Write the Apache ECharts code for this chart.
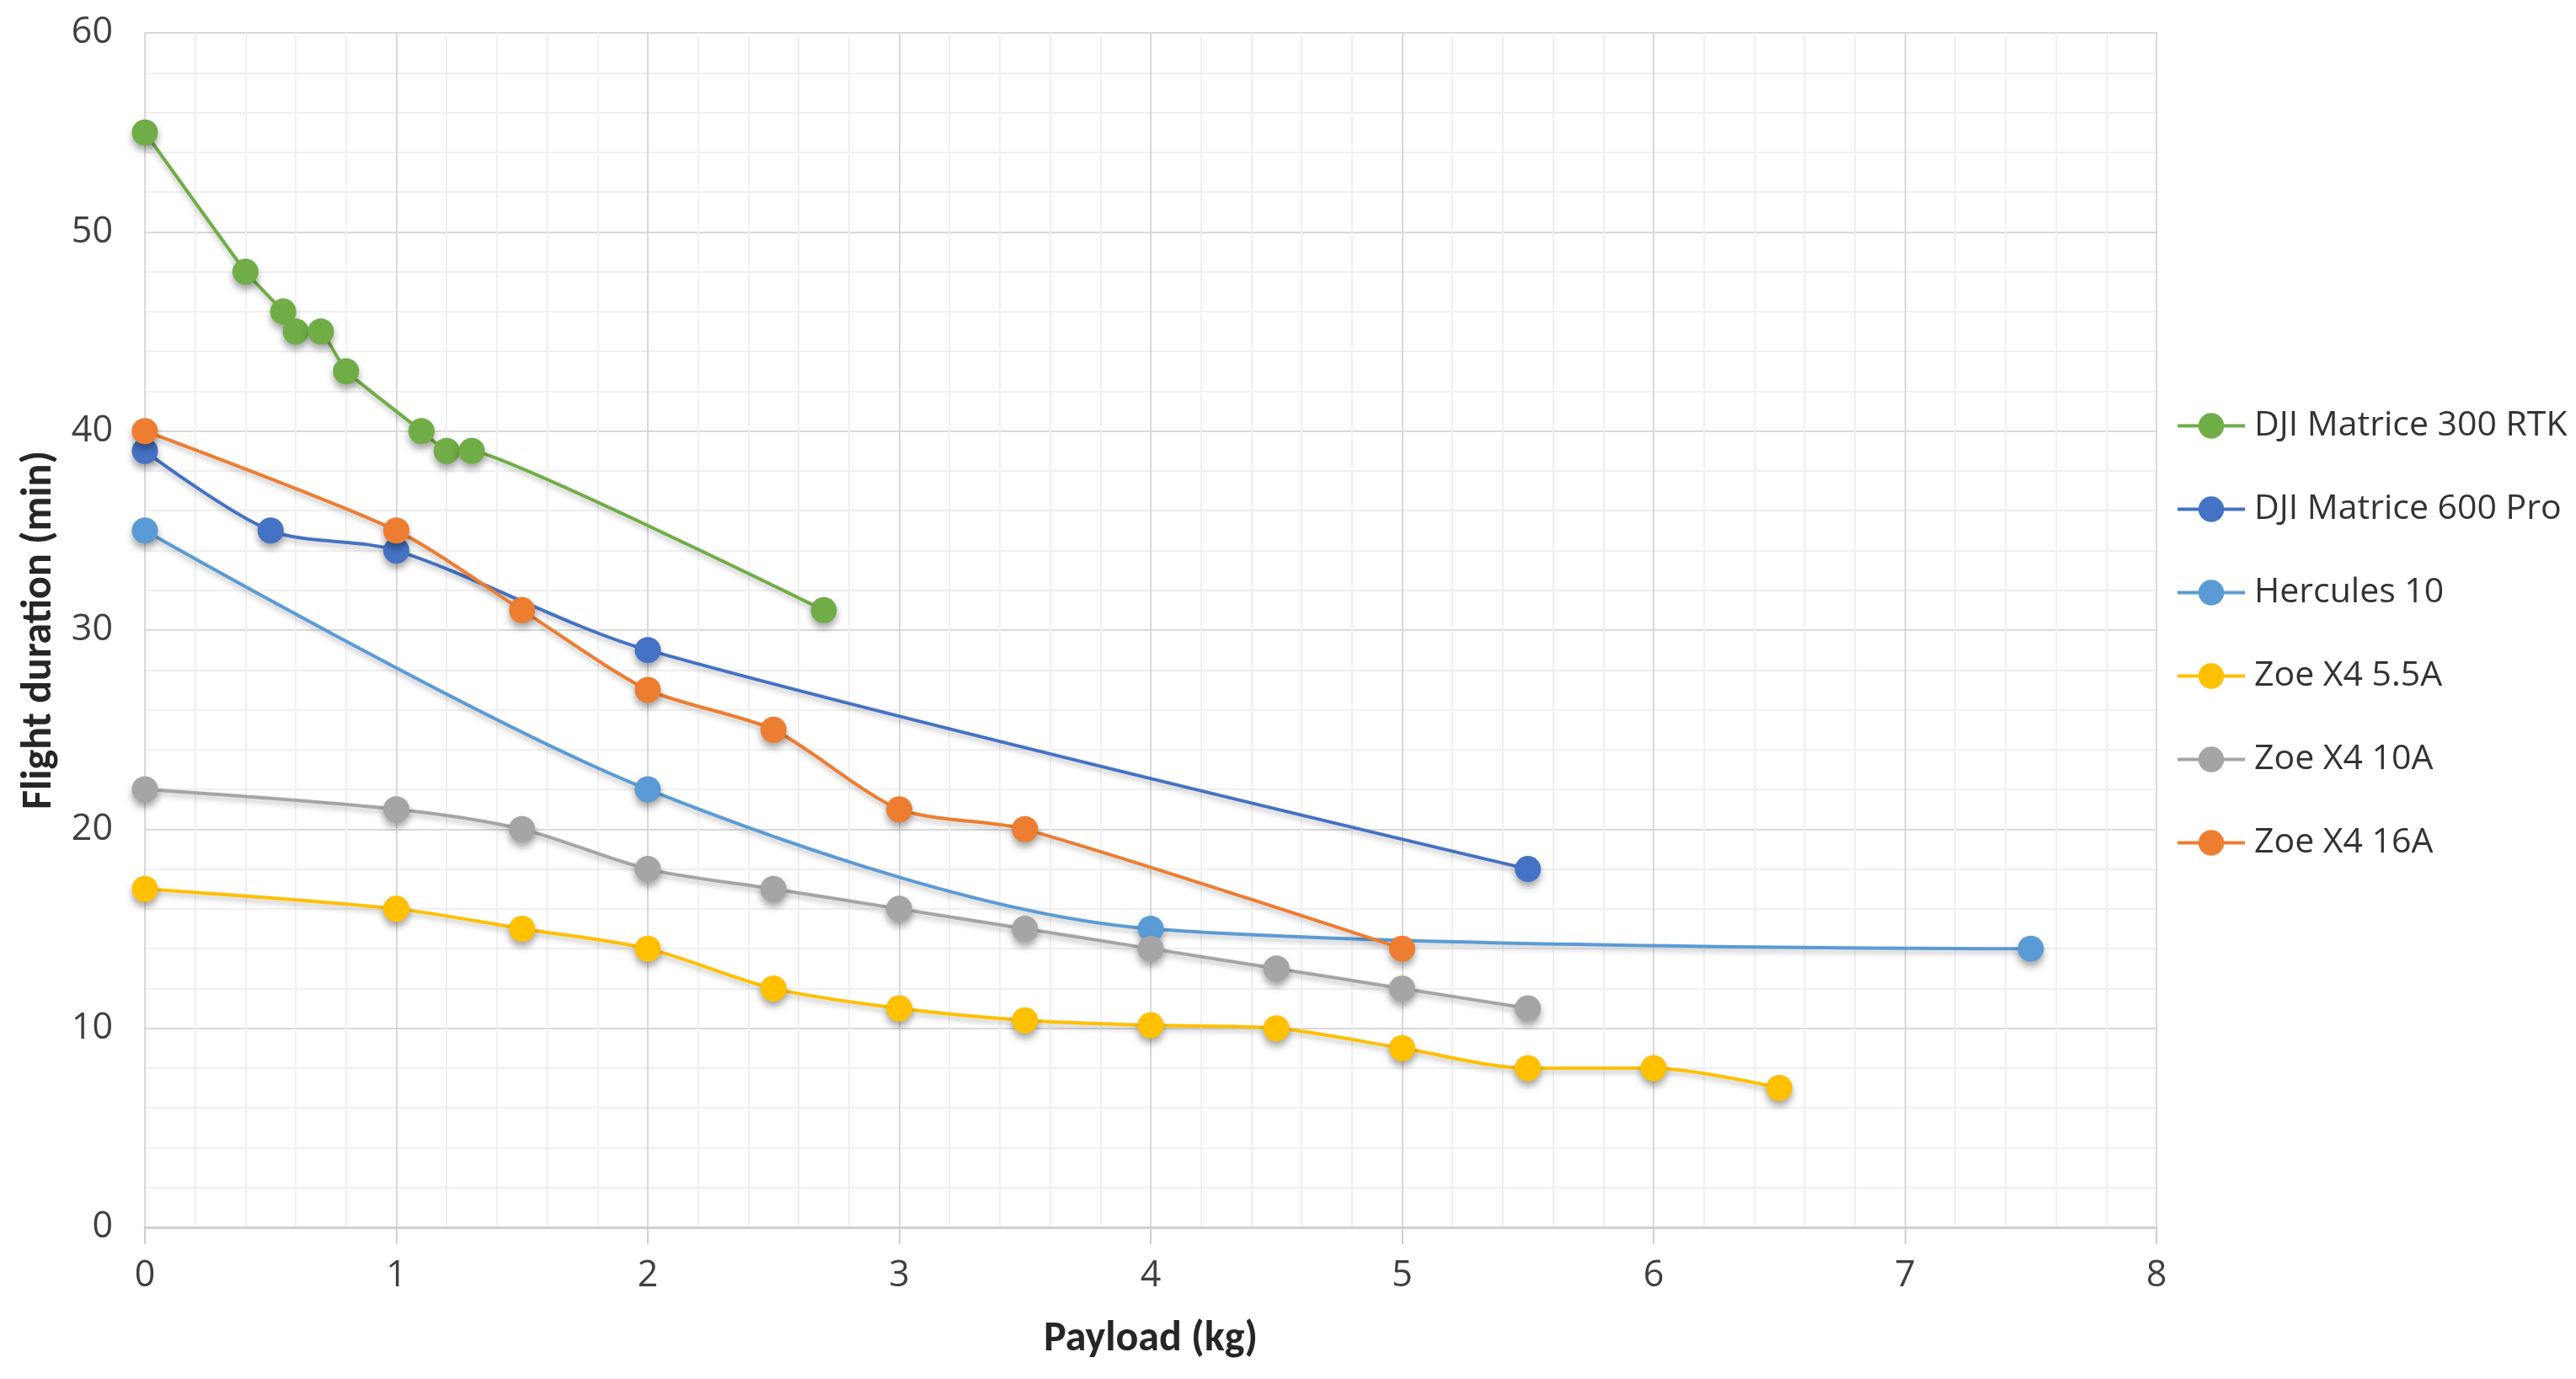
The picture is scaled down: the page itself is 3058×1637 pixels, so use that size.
<!DOCTYPE html>
<html>
<head>
<meta charset="utf-8">
<script src="https://cdn.jsdelivr.net/npm/echarts@6/dist/echarts.min.js"></script>
<style>
html,body{margin:0;padding:0;background:#fff;}
#chart{width:3058px;height:1637px;}
</style>
</head>
<body>
<div id="chart"></div>
<script>
// Data (payload kg, flight duration min)
const seriesNames = ['DJI Matrice 300 RTK', 'DJI Matrice 600 Pro', 'Hercules 10', 'Zoe X4 5.5A', 'Zoe X4 10A', 'Zoe X4 16A'];
const m300Payload = [0, 0.4, 0.55, 0.6, 0.7, 0.8, 1.1, 1.2, 1.3, 2.7];
const m300Duration = [55, 48, 46, 45, 45, 43, 40, 39, 39, 31];
const m600Payload = [0, 0.5, 1, 2, 5.5];
const m600Duration = [39, 35, 34, 29, 18];
const herculesPayload = [0, 2, 4, 7.5];
const herculesDuration = [35, 22, 15, 14];
const zoe55Payload = [0, 1, 1.5, 2, 2.5, 3, 3.5, 4, 4.5, 5, 5.5, 6, 6.5];
const zoe55Duration = [17, 16, 15, 14, 12, 11, 10.4, 10.15, 10, 9, 8, 8, 7];
const zoe10Payload = [0, 1, 1.5, 2, 2.5, 3, 3.5, 4, 4.5, 5, 5.5];
const zoe10Duration = [22, 21, 20, 18, 17, 16, 15, 14, 13, 12, 11];
const zoe16Payload = [0, 1, 1.5, 2, 2.5, 3, 3.5, 5];
const zoe16Duration = [40, 35, 31, 27, 25, 21, 20, 14];
const xTicks = [0, 1, 2, 3, 4, 5, 6, 7, 8];
const yTicks = [0, 10, 20, 30, 40, 50, 60];

const colors = ['#70AD47', '#4472C4', '#5B9BD5', '#FFC000', '#A5A5A5', '#ED7D31'];
const smoothness = [0.08, 0.3, 0.3, 0.3, 0.3, 0.25];
const pairs = [
  [m300Payload, m300Duration],
  [m600Payload, m600Duration],
  [herculesPayload, herculesDuration],
  [zoe55Payload, zoe55Duration],
  [zoe10Payload, zoe10Duration],
  [zoe16Payload, zoe16Duration]
];
const titleFont = '"Liberation Sans Narrow", Carlito, Lato, sans-serif';
const labelFont = '"Open Sans", Lato, sans-serif';

const chart = echarts.init(document.getElementById('chart'), null, {renderer: 'canvas'});

const series = seriesNames.map((name, i) => ({
  name: name,
  type: 'line',
  data: pairs[i][0].map((x, k) => [x, pairs[i][1][k]]),
  smooth: smoothness[i],
  symbol: 'circle',
  symbolSize: 31,
  showSymbol: true,
  z: 2 + i,
  lineStyle: {color: colors[i], width: 4, shadowColor: 'rgba(0,0,0,0.25)', shadowBlur: 6, shadowOffsetY: 4},
  itemStyle: {color: colors[i], shadowColor: 'rgba(0,0,0,0.35)', shadowBlur: 8, shadowOffsetY: 6},
  emphasis: {disabled: true}
}));

chart.setOption({
  animation: false,
  backgroundColor: '#ffffff',
  grid: {left: 172, right: 498, top: 39, bottom: 180, containLabel: false},
  legend: {
    orient: 'vertical',
    left: 2578,
    top: 480,
    itemWidth: 80,
    itemHeight: 38,
    itemGap: 58,
    data: seriesNames,
    lineStyle: {width: 4, shadowBlur: 0, shadowOffsetY: 0},
    itemStyle: {shadowBlur: 0, shadowOffsetY: 0},
    textStyle: {fontFamily: labelFont, fontSize: 41, color: '#333333', padding: [0, 0, 0, 6]}
  },
  xAxis: {
    type: 'value',
    min: xTicks[0],
    max: xTicks[xTicks.length - 1],
    interval: 1,
    name: 'Payload (kg)',
    nameLocation: 'middle',
    nameGap: 108,
    nameTextStyle: {fontFamily: titleFont, fontSize: 50, fontWeight: 'bold', color: '#262626'},
    axisLine: {show: true, lineStyle: {color: '#d0d0d0', width: 3}},
    axisTick: {show: true, length: 20, lineStyle: {color: '#d0d0d0', width: 2}},
    axisLabel: {fontFamily: labelFont, fontSize: 43, color: '#404040', margin: 36},
    splitLine: {show: true, lineStyle: {color: '#d9d9d9', width: 2}},
    minorTick: {show: false, splitNumber: 5},
    minorSplitLine: {show: true, lineStyle: {color: '#f0f0f0', width: 2}}
  },
  yAxis: {
    type: 'value',
    min: yTicks[0],
    max: yTicks[yTicks.length - 1],
    interval: 10,
    name: 'Flight duration (min)',
    nameLocation: 'middle',
    nameGap: 100,
    nameTextStyle: {fontFamily: titleFont, fontSize: 50, fontWeight: 'bold', color: '#262626'},
    axisLine: {show: true, lineStyle: {color: '#d9d9d9', width: 2}},
    axisTick: {show: false},
    axisLabel: {fontFamily: labelFont, fontSize: 43, color: '#404040', margin: 38},
    splitLine: {show: true, lineStyle: {color: '#d9d9d9', width: 2}},
    minorTick: {show: false, splitNumber: 5},
    minorSplitLine: {show: true, lineStyle: {color: '#f0f0f0', width: 2}}
  },
  series: series
});
</script>
</body>
</html>
